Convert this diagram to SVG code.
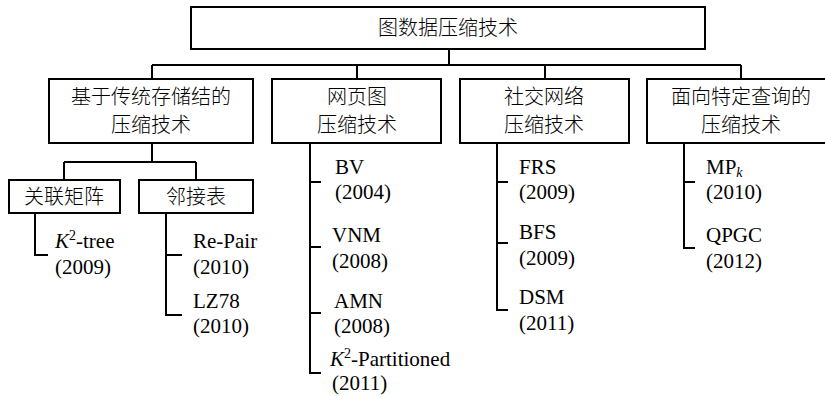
<svg xmlns="http://www.w3.org/2000/svg" width="825" height="396" viewBox="0 0 825 396">
<style>
.box{fill:#fff;stroke:#000;stroke-width:2}
.ln{fill:none;stroke:#000;stroke-width:2}
.cjk{font-family:"Liberation Serif","Noto Sans CJK SC",serif;font-size:20px;font-weight:300;fill:#000;text-anchor:middle}
.lat{font-family:"Liberation Serif",serif;font-size:21px;fill:#000}
</style>
<rect width="825" height="396" fill="#fff"/>
<g id="connectors">
<path class="ln" d="M449 49V65M152 65H741M152 65V79M357 65V79M545 65V79M741 65V79"/>
<path class="ln" d="M152 143V162M64 162H196M64 162V180M196 162V180"/>
<path class="ln" d="M35 213V255H48"/>
<path class="ln" d="M166 213V315H182M166 255H182"/>
<path class="ln" d="M310 143V373H321M310 182H321M310 247H321M310 313H321"/>
<path class="ln" d="M497 143V310H508M497 182H508M497 243H508"/>
<path class="ln" d="M684 143V248H695M684 182H695"/>
</g>
<g id="root"><rect class="box" x="191" y="7" width="514" height="42"/><text class="cjk" x="448" y="35">图数据压缩技术</text></g>
<g id="n1"><rect class="box" x="49" y="79" width="204" height="64"/><text class="cjk" x="151" y="104">基于传统存储结的</text><text class="cjk" x="151" y="132">压缩技术</text></g>
<g id="n2"><rect class="box" x="272" y="79" width="169" height="64"/><text class="cjk" x="357" y="104">网页图</text><text class="cjk" x="357" y="132">压缩技术</text></g>
<g id="n3"><rect class="box" x="460" y="79" width="169" height="64"/><text class="cjk" x="544" y="104">社交网络</text><text class="cjk" x="544" y="132">压缩技术</text></g>
<g id="n4"><rect class="box" x="647" y="79" width="190" height="64"/><text class="cjk" x="741" y="104">面向特定查询的</text><text class="cjk" x="741" y="132">压缩技术</text></g>
<g id="n11"><rect class="box" x="9" y="180" width="111" height="33"/><text class="cjk" x="64" y="204">关联矩阵</text></g>
<g id="n12"><rect class="box" x="139" y="180" width="114" height="33"/><text class="cjk" x="196" y="204">邻接表</text></g>
<g id="k2tree"><text class="lat" x="55" y="248"><tspan font-style="italic">K</tspan><tspan font-size="14" dy="-8">2</tspan><tspan dy="8">-tree</tspan></text><text class="lat" x="55" y="274">(2009)</text></g>
<g id="repair"><text class="lat" x="193" y="248">Re-Pair</text><text class="lat" x="193" y="274">(2010)</text></g>
<g id="lz78"><text class="lat" x="193" y="308">LZ78</text><text class="lat" x="193" y="333">(2010)</text></g>
<g id="bv"><text class="lat" x="335" y="174">BV</text><text class="lat" x="335" y="199">(2004)</text></g>
<g id="vnm"><text class="lat" x="332" y="242">VNM</text><text class="lat" x="332" y="268">(2008)</text></g>
<g id="amn"><text class="lat" x="334" y="308">AMN</text><text class="lat" x="334" y="333">(2008)</text></g>
<g id="k2part"><text class="lat" x="330" y="366"><tspan font-style="italic">K</tspan><tspan font-size="14" dy="-8">2</tspan><tspan dy="8">-Partitioned</tspan></text><text class="lat" x="332" y="390">(2011)</text></g>
<g id="frs"><text class="lat" x="519" y="174">FRS</text><text class="lat" x="519" y="199">(2009)</text></g>
<g id="bfs"><text class="lat" x="519" y="239">BFS</text><text class="lat" x="519" y="265">(2009)</text></g>
<g id="dsm"><text class="lat" x="519" y="304">DSM</text><text class="lat" x="519" y="330">(2011)</text></g>
<g id="mpk"><text class="lat" x="706" y="174">MP<tspan font-size="14" font-style="italic" dy="3">k</tspan></text><text class="lat" x="706" y="199">(2010)</text></g>
<g id="qpgc"><text class="lat" x="706" y="242">QPGC</text><text class="lat" x="706" y="268">(2012)</text></g>
</svg>
